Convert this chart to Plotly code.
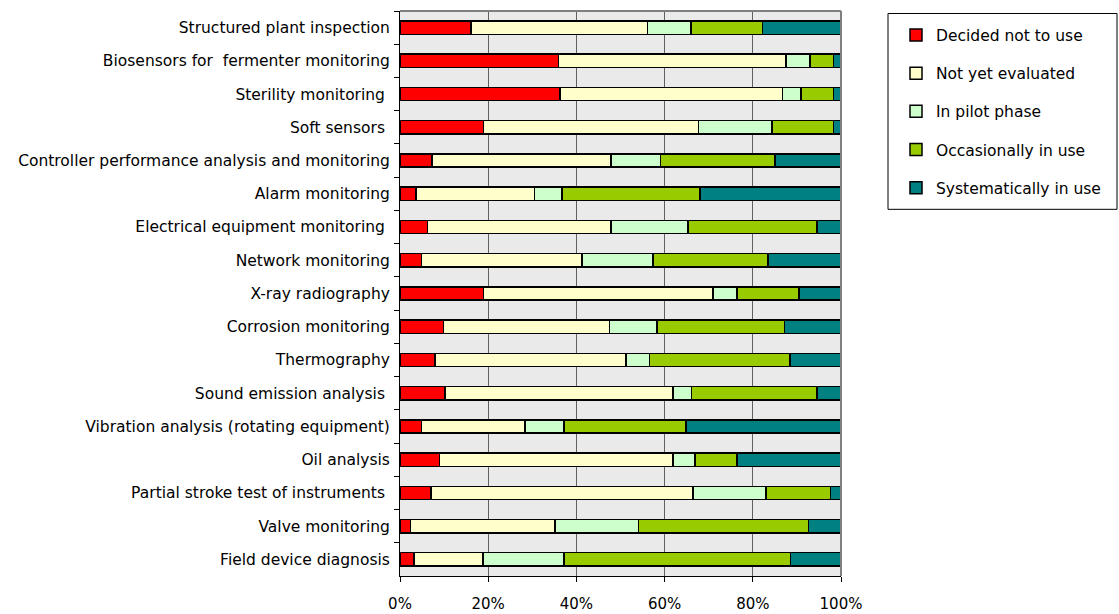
import plotly.graph_objects as go

# Technologies (top to bottom)
categories = [
    "Structured plant inspection",
    "Biosensors for  fermenter monitoring",
    "Sterility monitoring ",
    "Soft sensors ",
    "Controller performance analysis and monitoring",
    "Alarm monitoring",
    "Electrical equipment monitoring ",
    "Network monitoring",
    "X-ray radiography",
    "Corrosion monitoring",
    "Thermography",
    "Sound emission analysis ",
    "Vibration analysis (rotating equipment)",
    "Oil analysis",
    "Partial stroke test of instruments ",
    "Valve monitoring",
    "Field device diagnosis",
]

# Share of respondents (%) per usage status
decided_not_to_use = [16.1, 35.9, 36.3, 18.9, 7.3, 3.6, 6.2, 4.9, 18.9, 9.9, 7.9, 10.2, 4.9, 9.0, 7.0, 2.4, 3.2]
not_yet_evaluated = [40.0, 51.6, 50.4, 48.8, 40.6, 26.9, 41.7, 36.4, 52.1, 37.6, 43.3, 51.7, 23.5, 52.9, 59.4, 32.7, 15.6]
in_pilot_phase = [9.9, 5.5, 4.2, 16.6, 11.2, 6.2, 17.4, 16.1, 5.4, 10.8, 5.4, 4.2, 8.8, 5.0, 16.6, 19.0, 18.4]
occasionally_in_use = [16.2, 5.3, 7.4, 14.0, 25.9, 31.3, 29.3, 26.0, 14.1, 28.9, 31.8, 28.5, 27.7, 9.5, 14.6, 38.5, 51.3]
systematically_in_use = [17.8, 1.7, 1.7, 1.7, 15.0, 32.0, 5.4, 16.6, 9.5, 12.8, 11.6, 5.4, 35.1, 23.6, 2.4, 7.4, 11.5]

x_ticks = [0, 20, 40, 60, 80, 100]
x_tick_labels = ["0%", "20%", "40%", "60%", "80%", "100%"]

series = [
    ("Decided not to use", decided_not_to_use, "#FF0000"),
    ("Not yet evaluated", not_yet_evaluated, "#FFFFCC"),
    ("In pilot phase", in_pilot_phase, "#CCFFCC"),
    ("Occasionally in use", occasionally_in_use, "#99CC00"),
    ("Systematically in use", systematically_in_use, "#008080"),
]

FONT = "DejaVu Sans"

fig = go.Figure()
for name, vals, color in series:
    fig.add_trace(go.Bar(
        y=categories,
        x=vals,
        name=name,
        orientation="h",
        legendgroup=name,
        marker=dict(color=color, line=dict(color="black", width=1.5)),
        hoverinfo="x+y+name",
    ))

L, R, T, B = 400, 278, 10.5, 38
W, H = 1119, 614
ph = H - T - B
pw = W - L - R

def px_to_paper_x(px):
    return (px - L) / pw

def px_to_paper_y(py):
    return (H - B - py) / ph

fig.update_layout(
    width=W,
    height=H,
    barmode="stack",
    bargap=0.6,
    margin=dict(l=L, r=R, t=T, b=B, pad=0, autoexpand=False),
    paper_bgcolor="white",
    plot_bgcolor="#EAEAEA",
    font=dict(family=FONT, size=15.5, color="black"),
    showlegend=True,
    legend=dict(
        x=px_to_paper_x(896),
        y=px_to_paper_y(18),
        xanchor="left",
        yanchor="top",
        traceorder="grouped",
        tracegroupgap=15,
        bgcolor="rgba(0,0,0,0)",
        borderwidth=0,
        font=dict(family=FONT, size=15.5, color="black"),
    ),
    xaxis=dict(
        range=[0, 100],
        tickvals=x_ticks,
        ticktext=x_tick_labels,
        showgrid=True,
        gridcolor="#606060",
        gridwidth=1,
        zeroline=False,
        showline=True,
        linecolor="black",
        linewidth=1,
        ticks="outside",
        ticklen=5,
        tickcolor="black",
        ticklabelstandoff=9,
        tickfont=dict(family=FONT, size=15),
        automargin=False,
        fixedrange=True,
    ),
    yaxis=dict(
        type="category",
        autorange="reversed",
        showgrid=False,
        showline=True,
        linecolor="black",
        linewidth=1,
        ticks="outside",
        tickson="boundaries",
        ticklen=5,
        tickcolor="black",
        ticklabelstandoff=6,
        tickfont=dict(family=FONT, size=15.5),
        automargin=False,
        fixedrange=True,
    ),
    shapes=[
        # top and right frame of the plotting area
        dict(type="line", xref="paper", yref="paper", x0=0, x1=1, y0=1, y1=1,
             line=dict(color="#808080", width=2)),
        dict(type="line", xref="paper", yref="paper", x0=1, x1=1, y0=0, y1=1,
             line=dict(color="#808080", width=2)),
        # legend frame
        dict(type="rect", xref="paper", yref="paper",
             x0=px_to_paper_x(888), x1=px_to_paper_x(1117),
             y0=px_to_paper_y(209), y1=px_to_paper_y(13),
             line=dict(color="black", width=1), fillcolor="rgba(0,0,0,0)"),
    ],
)

fig.write_html("out.html")
